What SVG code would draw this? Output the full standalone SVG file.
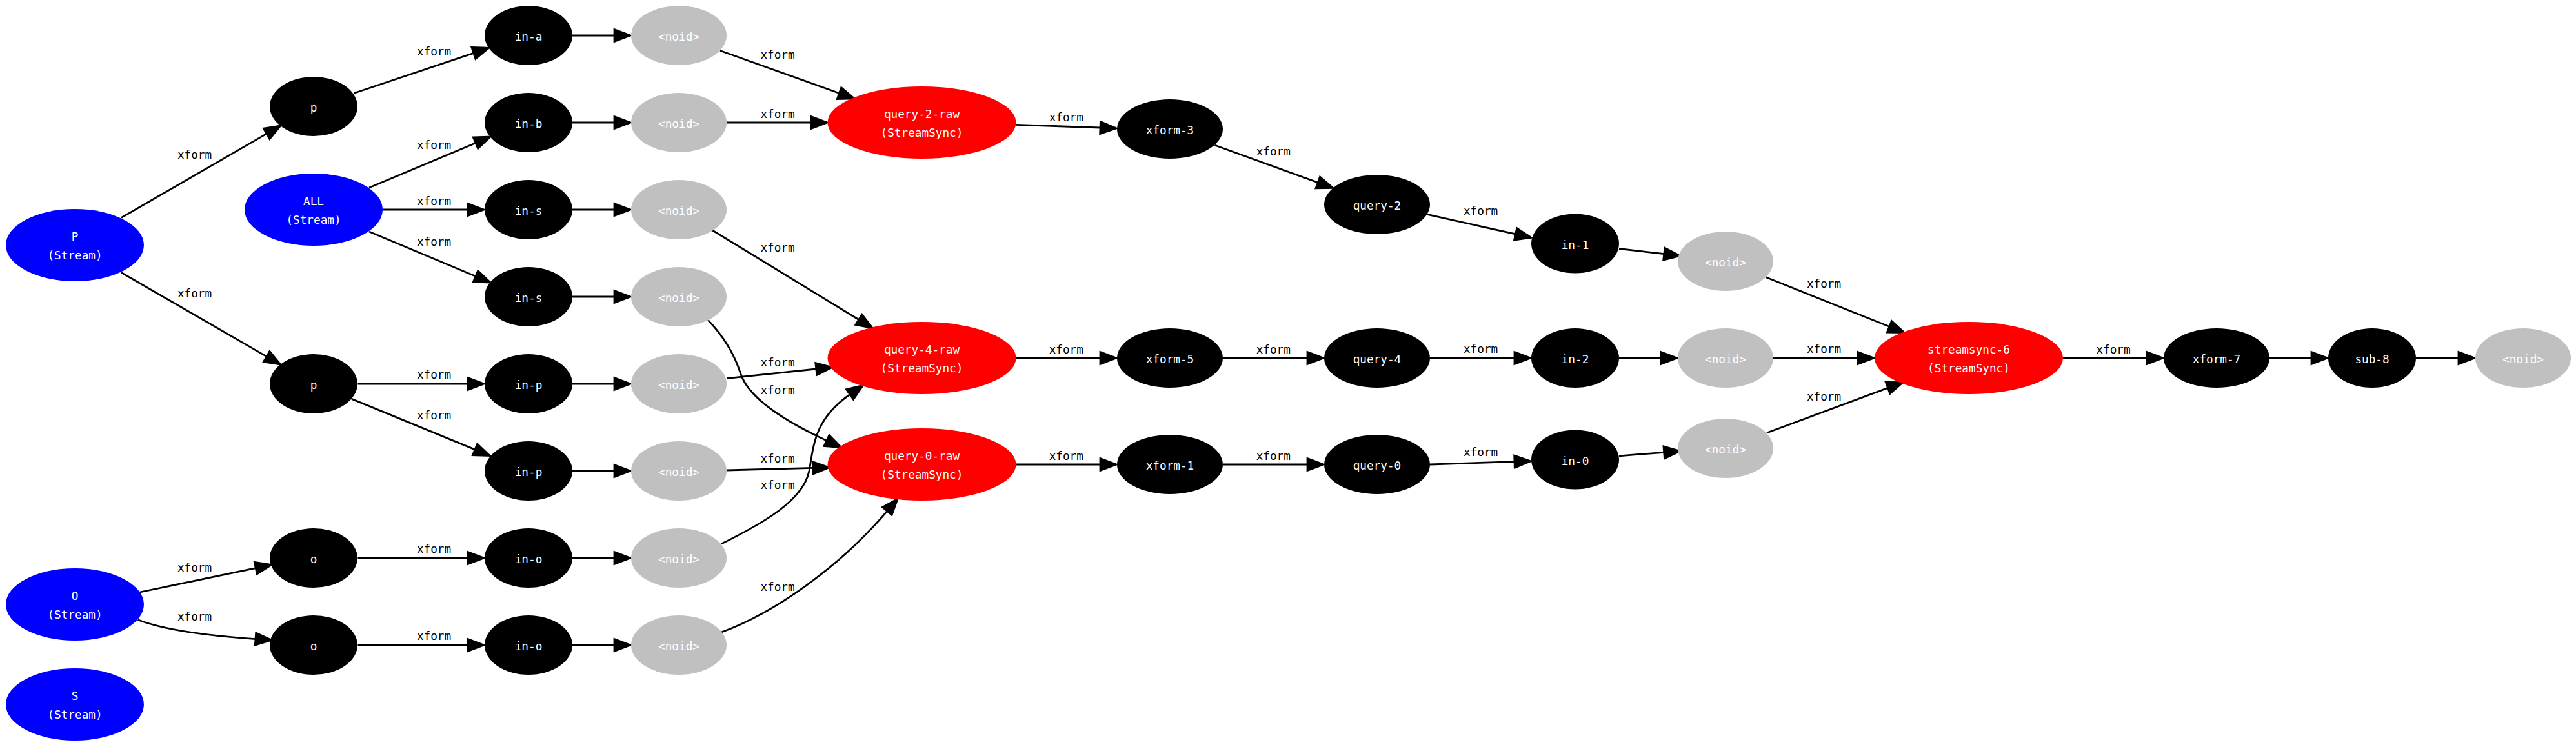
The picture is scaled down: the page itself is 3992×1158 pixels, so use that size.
<svg xmlns="http://www.w3.org/2000/svg" width="3992" height="1158" viewBox="0 0 3992 1158">
<defs>
<style>
text{font-family:"DejaVu Sans Mono","Liberation Mono",monospace;font-size:17.7px;text-anchor:middle}
.nt{fill:#ffffff}
.lb{fill:#000000}
.blue{fill:#0000ff}
.red{fill:#ff0000}
.blk{fill:#000000}
.gry{fill:#c0c0c0}
.e{fill:none;stroke:#000000;stroke-width:2.8;marker-end:url(#ah)}
</style>
<marker id="ah" markerUnits="userSpaceOnUse" viewBox="-4 -14 36 28" markerWidth="36" markerHeight="28" refX="0" refY="0" orient="auto" overflow="visible">
<path d="M0,-9.5 L25,0 L0,9.5 Z" fill="#000000" stroke="#000000" stroke-width="2.8"/>
</marker>
</defs>
<rect width="3992" height="1158" fill="#ffffff"/>

<g id="edges">
<path class="e" d="M188,337.5 L413.1,207.4"/>
<text class="lb" x="301.5" y="246">xform</text>
<path class="e" d="M188,422.5 L413.1,552.6"/>
<text class="lb" x="301.5" y="461">xform</text>
<path class="e" d="M548.5,144.5 L733.9,82.3"/>
<text class="lb" x="672.5" y="85.7">xform</text>
<path class="e" d="M572,291 L737,221.7"/>
<text class="lb" x="672.5" y="230.7">xform</text>
<path class="e" d="M592.5,325 L725,325"/>
<text class="lb" x="672.5" y="317.5">xform</text>
<path class="e" d="M572,359 L737,428.3"/>
<text class="lb" x="672.5" y="380.5">xform</text>
<path class="e" d="M554.5,595 L725,595"/>
<text class="lb" x="672.5" y="587">xform</text>
<path class="e" d="M545,618.4 L736,696.9"/>
<text class="lb" x="672.5" y="650">xform</text>
<path class="e" d="M216.6,918 L396.3,880.7"/>
<text class="lb" x="301.5" y="886">xform</text>
<path class="e" d="M213.5,960.8 C255,977 330,986 396,990.6"/>
<text class="lb" x="301.5" y="962">xform</text>
<path class="e" d="M554.5,865 L725,865"/>
<text class="lb" x="672.5" y="857">xform</text>
<path class="e" d="M554.5,1000 L725,1000"/>
<text class="lb" x="672.5" y="992">xform</text>

<path class="e" d="M887,55 L952,55"/>
<path class="e" d="M887,190 L952,190"/>
<path class="e" d="M887,325 L952,325"/>
<path class="e" d="M887,460 L952,460"/>
<path class="e" d="M887,595 L952,595"/>
<path class="e" d="M887,730 L952,730"/>
<path class="e" d="M887,865 L952,865"/>
<path class="e" d="M887,1000 L952,1000"/>

<path class="e" d="M1116,78.5 L1300.5,144.5"/>
<text class="lb" x="1205" y="90.5">xform</text>
<path class="e" d="M1126,190 L1257,190"/>
<text class="lb" x="1205" y="182.5">xform</text>
<path class="e" d="M1104,357 L1330.8,495.5"/>
<text class="lb" x="1205" y="390">xform</text>
<path class="e" d="M1097,496 C1125,525 1140,555 1148,580 C1160,615 1210,650 1281,683"/>
<text class="lb" x="1205" y="611">xform</text>
<path class="e" d="M1126,586.7 L1264.8,572"/>
<text class="lb" x="1205" y="567.7">xform</text>
<path class="e" d="M1126,729 L1260,725.4"/>
<text class="lb" x="1205" y="717.3">xform</text>
<path class="e" d="M1118,843 C1185,810 1245,775 1254,730 C1261,690 1262,650 1317,611.5"/>
<text class="lb" x="1205" y="758.3">xform</text>
<path class="e" d="M1118,980 C1200,950 1300,880 1374.8,792.3"/>
<text class="lb" x="1205" y="916">xform</text>

<path class="e" d="M1574.3,193.3 L1705,198"/>
<text class="lb" x="1652.3" y="187.7">xform</text>
<path class="e" d="M1882.3,225 L2042.3,282.9"/>
<text class="lb" x="1973.3" y="240.7">xform</text>
<path class="e" d="M1574.5,555 L1705,555"/>
<text class="lb" x="1652.3" y="548">xform</text>
<path class="e" d="M1895,555 L2026,555"/>
<text class="lb" x="1973.3" y="548">xform</text>
<path class="e" d="M1574.5,720 L1705,720"/>
<text class="lb" x="1652.3" y="712.5">xform</text>
<path class="e" d="M1895,720 L2026,720"/>
<text class="lb" x="1973.3" y="712.5">xform</text>

<path class="e" d="M2211.7,332.4 L2348.6,362.9"/>
<text class="lb" x="2294.6" y="332.5">xform</text>
<path class="e" d="M2216,555 L2347,555"/>
<text class="lb" x="2294.6" y="547.3">xform</text>
<path class="e" d="M2216,720 L2347,715.6"/>
<text class="lb" x="2294.6" y="707">xform</text>

<path class="e" d="M2509,385.5 L2578.8,393.7"/>
<path class="e" d="M2509,555 L2574,555"/>
<path class="e" d="M2509,706.8 L2578.7,701.3"/>

<path class="e" d="M2736.6,429.8 L2927.9,506.3"/>
<text class="lb" x="2826.5" y="445.7">xform</text>
<path class="e" d="M2748,555 L2879,555"/>
<text class="lb" x="2826.5" y="547.3">xform</text>
<path class="e" d="M2738,671 L2925.6,601.4"/>
<text class="lb" x="2826.5" y="620.5">xform</text>

<path class="e" d="M3197,555 L3327,555"/>
<text class="lb" x="3275" y="547.8">xform</text>
<path class="e" d="M3517,555 L3582,555"/>
<path class="e" d="M3744,555 L3810,555"/>
</g>

<g id="P"><ellipse class="blue" cx="116" cy="380" rx="107" ry="56"/><text class="nt" x="116" y="373">P</text><text class="nt" x="116" y="402">(Stream)</text></g>
<g id="ALL"><ellipse class="blue" cx="486" cy="325" rx="107" ry="56"/><text class="nt" x="486" y="318">ALL</text><text class="nt" x="486" y="347">(Stream)</text></g>
<g id="O"><ellipse class="blue" cx="116" cy="937" rx="107" ry="56"/><text class="nt" x="116" y="930">O</text><text class="nt" x="116" y="959">(Stream)</text></g>
<g id="S"><ellipse class="blue" cx="116" cy="1092" rx="107" ry="56"/><text class="nt" x="116" y="1085">S</text><text class="nt" x="116" y="1114">(Stream)</text></g>

<g id="p1"><ellipse class="blk" cx="486" cy="165" rx="68" ry="46"/><text class="nt" x="486" y="173">p</text></g>
<g id="p2"><ellipse class="blk" cx="486" cy="595" rx="68" ry="46"/><text class="nt" x="486" y="603">p</text></g>
<g id="o1"><ellipse class="blk" cx="486" cy="865" rx="68" ry="46"/><text class="nt" x="486" y="873">o</text></g>
<g id="o2"><ellipse class="blk" cx="486" cy="1000" rx="68" ry="46"/><text class="nt" x="486" y="1008">o</text></g>

<g id="in-a"><ellipse class="blk" cx="819" cy="55" rx="68" ry="46"/><text class="nt" x="819" y="63">in-a</text></g>
<g id="in-b"><ellipse class="blk" cx="819" cy="190" rx="68" ry="46"/><text class="nt" x="819" y="198">in-b</text></g>
<g id="in-s1"><ellipse class="blk" cx="819" cy="325" rx="68" ry="46"/><text class="nt" x="819" y="333">in-s</text></g>
<g id="in-s2"><ellipse class="blk" cx="819" cy="460" rx="68" ry="46"/><text class="nt" x="819" y="468">in-s</text></g>
<g id="in-p1"><ellipse class="blk" cx="819" cy="595" rx="68" ry="46"/><text class="nt" x="819" y="603">in-p</text></g>
<g id="in-p2"><ellipse class="blk" cx="819" cy="730" rx="68" ry="46"/><text class="nt" x="819" y="738">in-p</text></g>
<g id="in-o1"><ellipse class="blk" cx="819" cy="865" rx="68" ry="46"/><text class="nt" x="819" y="873">in-o</text></g>
<g id="in-o2"><ellipse class="blk" cx="819" cy="1000" rx="68" ry="46"/><text class="nt" x="819" y="1008">in-o</text></g>

<g id="noid1"><ellipse class="gry" cx="1052" cy="55" rx="74" ry="46"/><text class="nt" x="1052" y="63">&lt;noid&gt;</text></g>
<g id="noid2"><ellipse class="gry" cx="1052" cy="190" rx="74" ry="46"/><text class="nt" x="1052" y="198">&lt;noid&gt;</text></g>
<g id="noid3"><ellipse class="gry" cx="1052" cy="325" rx="74" ry="46"/><text class="nt" x="1052" y="333">&lt;noid&gt;</text></g>
<g id="noid4"><ellipse class="gry" cx="1052" cy="460" rx="74" ry="46"/><text class="nt" x="1052" y="468">&lt;noid&gt;</text></g>
<g id="noid5"><ellipse class="gry" cx="1052" cy="595" rx="74" ry="46"/><text class="nt" x="1052" y="603">&lt;noid&gt;</text></g>
<g id="noid6"><ellipse class="gry" cx="1052" cy="730" rx="74" ry="46"/><text class="nt" x="1052" y="738">&lt;noid&gt;</text></g>
<g id="noid7"><ellipse class="gry" cx="1052" cy="865" rx="74" ry="46"/><text class="nt" x="1052" y="873">&lt;noid&gt;</text></g>
<g id="noid8"><ellipse class="gry" cx="1052" cy="1000" rx="74" ry="46"/><text class="nt" x="1052" y="1008">&lt;noid&gt;</text></g>

<g id="query-2-raw"><ellipse class="red" cx="1428.5" cy="190" rx="146" ry="56"/><text class="nt" x="1428.5" y="183">query-2-raw</text><text class="nt" x="1428.5" y="212">(StreamSync)</text></g>
<g id="query-4-raw"><ellipse class="red" cx="1428.5" cy="555" rx="146" ry="56"/><text class="nt" x="1428.5" y="548">query-4-raw</text><text class="nt" x="1428.5" y="577">(StreamSync)</text></g>
<g id="query-0-raw"><ellipse class="red" cx="1428.5" cy="720" rx="146" ry="56"/><text class="nt" x="1428.5" y="713">query-0-raw</text><text class="nt" x="1428.5" y="742">(StreamSync)</text></g>

<g id="xform-3"><ellipse class="blk" cx="1813" cy="200" rx="82" ry="46"/><text class="nt" x="1813" y="208">xform-3</text></g>
<g id="xform-5"><ellipse class="blk" cx="1813" cy="555" rx="82" ry="46"/><text class="nt" x="1813" y="563">xform-5</text></g>
<g id="xform-1"><ellipse class="blk" cx="1813" cy="720" rx="82" ry="46"/><text class="nt" x="1813" y="728">xform-1</text></g>

<g id="query-2"><ellipse class="blk" cx="2134" cy="317" rx="82" ry="46"/><text class="nt" x="2134" y="325">query-2</text></g>
<g id="query-4"><ellipse class="blk" cx="2134" cy="555" rx="82" ry="46"/><text class="nt" x="2134" y="563">query-4</text></g>
<g id="query-0"><ellipse class="blk" cx="2134" cy="720" rx="82" ry="46"/><text class="nt" x="2134" y="728">query-0</text></g>

<g id="in-1"><ellipse class="blk" cx="2441" cy="377.6" rx="68" ry="46"/><text class="nt" x="2441" y="385.6">in-1</text></g>
<g id="in-2"><ellipse class="blk" cx="2441" cy="555" rx="68" ry="46"/><text class="nt" x="2441" y="563">in-2</text></g>
<g id="in-0"><ellipse class="blk" cx="2441" cy="712.6" rx="68" ry="46"/><text class="nt" x="2441" y="720.6">in-0</text></g>

<g id="noid9"><ellipse class="gry" cx="2674" cy="405" rx="74" ry="46"/><text class="nt" x="2674" y="413">&lt;noid&gt;</text></g>
<g id="noid10"><ellipse class="gry" cx="2674" cy="555" rx="74" ry="46"/><text class="nt" x="2674" y="563">&lt;noid&gt;</text></g>
<g id="noid11"><ellipse class="gry" cx="2674" cy="695" rx="74" ry="46"/><text class="nt" x="2674" y="703">&lt;noid&gt;</text></g>

<g id="streamsync-6"><ellipse class="red" cx="3051" cy="555" rx="146" ry="56"/><text class="nt" x="3051" y="548">streamsync-6</text><text class="nt" x="3051" y="577">(StreamSync)</text></g>
<g id="xform-7"><ellipse class="blk" cx="3435" cy="555" rx="82" ry="46"/><text class="nt" x="3435" y="563">xform-7</text></g>
<g id="sub-8"><ellipse class="blk" cx="3676" cy="555" rx="68" ry="46"/><text class="nt" x="3676" y="563">sub-8</text></g>
<g id="noid12"><ellipse class="gry" cx="3910" cy="555" rx="74" ry="46"/><text class="nt" x="3910" y="563">&lt;noid&gt;</text></g>
</svg>
